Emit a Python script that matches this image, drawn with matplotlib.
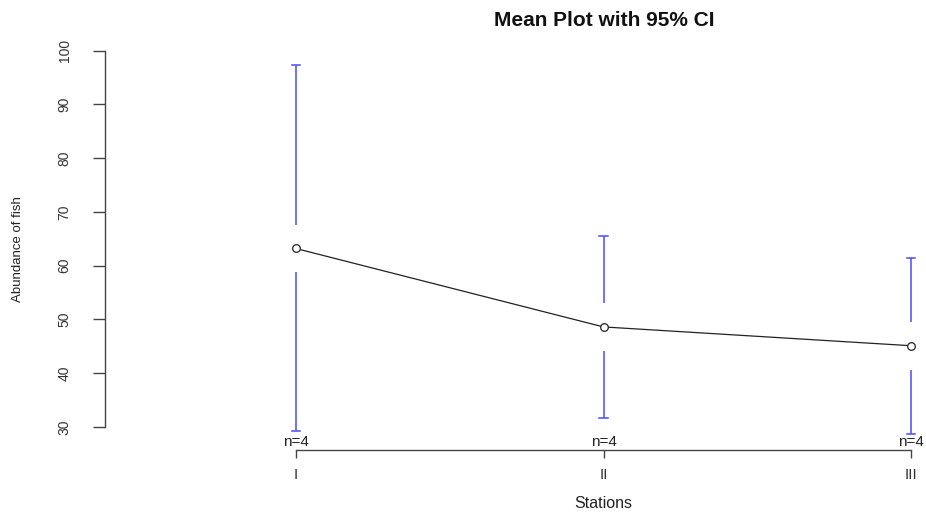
import matplotlib
matplotlib.use("Agg")
import matplotlib.pyplot as plt

stations = ["I", "II", "III"]
means = [63.2, 48.6, 45.1]
ci_upper = [97.3, 65.6, 61.4]
ci_lower = [29.3, 31.6, 28.7]
n_obs = [4, 4, 4]
yticks = [30, 40, 50, 60, 70, 80, 90, 100]

plt.rcParams['font.family'] = ['Liberation Sans', 'DejaVu Sans']

fig = plt.figure(figsize=(9.26, 5.14), dpi=100)
ax = fig.add_axes([105/926, 64/514, 997/926, 402/514])
ax.set_xlim(0.38, 3.62)
ax.set_ylim(25.7, 100.5)

x = list(range(1, len(stations) + 1))
gap = 4.45  # gap around mean in data units (style)
blue = '#4a4aff'
cap = 0.013
lw_ci = 1.1
for xi, m, lo, hi in zip(x, means, ci_lower, ci_upper):
    ax.plot([xi, xi], [m + gap, hi], color=blue, lw=lw_ci, solid_capstyle='butt')
    ax.plot([xi, xi], [lo, m - gap], color=blue, lw=lw_ci, solid_capstyle='butt')
    ax.plot([xi - cap, xi + cap], [hi, hi], color=blue, lw=lw_ci)
    ax.plot([xi - cap, xi + cap], [lo, lo], color=blue, lw=lw_ci)

ax.plot(x, means, color='#222222', lw=0.9, marker='o', ms=5.5,
        mfc='white', mec='#222222', mew=0.9, zorder=5)

for xi, n in zip(x, n_obs):
    ax.annotate(f"n={n}", (xi, 25.7), xytext=(0, 1), textcoords='offset points',
                ha='center', va='bottom', fontsize=11, color='#222222')

for s in ['top', 'right']:
    ax.spines[s].set_visible(False)
ax.spines['left'].set_bounds(30, 100)
ax.spines['bottom'].set_bounds(1, 3)
for s in ['left', 'bottom']:
    ax.spines[s].set_color('#444444')
    ax.spines[s].set_linewidth(1.0)

ax.set_yticks(yticks)
ax.set_yticklabels([str(v) for v in yticks], rotation=90, va='center')
ax.set_xticks(x)
ax.set_xticklabels(stations)
ax.tick_params(axis='y', length=9, width=1.0, color='#444444', pad=15,
               labelsize=10, labelcolor='#333333')
ax.tick_params(axis='x', length=6, width=1.0, color='#444444', pad=7,
               labelsize=11, labelcolor='#333333')

fig.text(18/926, 1 - 249/514, "Abundance of fish", rotation=90, ha='center',
         va='center', fontsize=9.5, color='#222222')
fig.text(603/926, 1 - 504/514, "Stations", ha='center', va='center',
         fontsize=11.5, color='#222222')
fig.text(604/926, 1 - 20/514, "Mean Plot with 95% CI", ha='center', va='center',
         fontsize=15, fontweight='bold', color='#111111')

fig.savefig("out.png", dpi=100)
